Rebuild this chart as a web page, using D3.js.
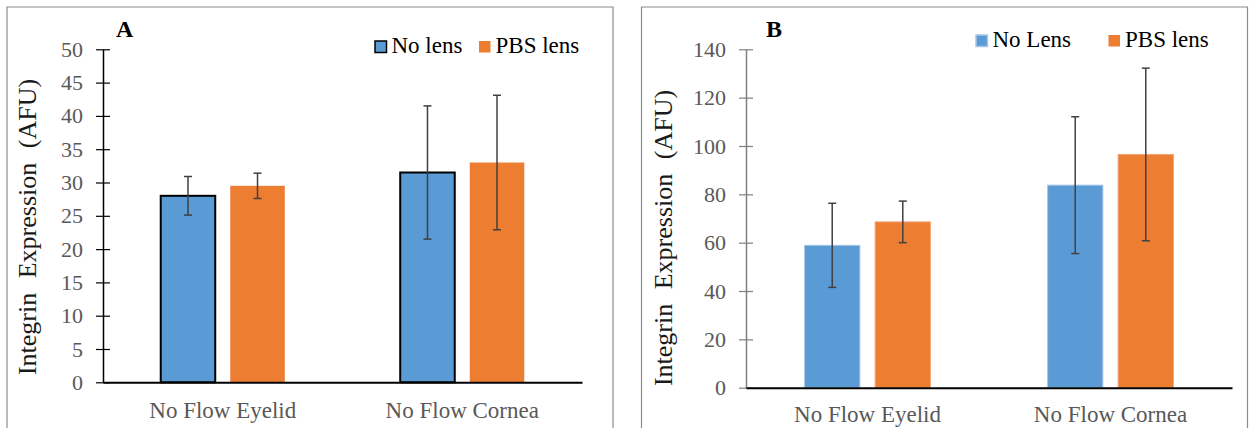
<!DOCTYPE html>
<html>
<head>
<meta charset="utf-8">
<script src="https://cdn.jsdelivr.net/npm/d3@7"></script>
<style>
  html, body { margin: 0; padding: 0; background: #fff; }
  svg { display: block; }
  svg text { font-family: "Liberation Serif", "Times New Roman", serif; }
</style>
</head>
<body>
<svg id="chart" width="1249" height="428"></svg>
<script>
// Groups along the x axis
const categories = ["No Flow Eyelid", "No Flow Cornea"];

// Panel A: integrin expression (AFU), mean and error half-width
const seriesA = ["No lens", "PBS lens"];
const noLensA = [28.0, 31.5];
const noLensErrA = [2.9, 10.0];
const pbsLensA = [29.5, 33.0];
const pbsLensErrA = [1.9, 10.1];
const ticksA = [0, 5, 10, 15, 20, 25, 30, 35, 40, 45, 50];

// Panel B: integrin expression (AFU), mean and error half-width
const seriesB = ["No Lens", "PBS lens"];
const noLensB = [58.9, 83.8];
const noLensErrB = [17.4, 28.3];
const pbsLensB = [68.6, 96.5];
const pbsLensErrB = [8.6, 35.7];
const ticksB = [0, 20, 40, 60, 80, 100, 120, 140];

const BLUE = "#5B9BD5", ORANGE = "#ED7D31";
const SERIF = "'Liberation Serif', 'Times New Roman', serif";
const svg = d3.select("#chart");

function drawPanel(p) {
  const g = svg.append("g");

  // panel frame (open at the bottom)
  g.append("path")
    .attr("d", `M${p.frame[0]},428V${p.frame[1]}H${p.frame[2]}V428`)
    .attr("fill", "none").attr("stroke", "#8c8c8c").attr("stroke-width", 1.2);

  const x0 = d3.scaleBand().domain(categories).range(p.xRange).padding(0);
  const x1 = d3.scaleBand().domain(p.series).range([0, x0.bandwidth()])
    .paddingInner(0.216).paddingOuter(0.83);
  const y = d3.scaleLinear().domain(p.domain).range(p.yRange);

  const rows = categories.map((c, i) => ({
    cat: c,
    vals: p.series.map((s, j) => ({ s, j, v: p.means[j][i], e: p.errs[j][i] }))
  }));

  // bars
  const grp = g.selectAll(".grp").data(rows).join("g")
    .attr("transform", d => `translate(${x0(d.cat)},0)`);
  grp.selectAll("rect").data(d => d.vals).join("rect")
    .attr("x", d => x1(d.s))
    .attr("y", d => y(d.v))
    .attr("width", x1.bandwidth())
    .attr("height", d => y(0) - y(d.v))
    .attr("fill", d => d.j === 0 ? BLUE : ORANGE)
    .attr("stroke", d => d.j === 0 ? p.blueStroke : p.orangeStroke)
    .attr("stroke-width", d => d.j === 0 ? p.blueStrokeW : 1);

  // error bars
  const eb = grp.selectAll(".eb").data(d => d.vals).join("g")
    .attr("stroke", "#404040").attr("stroke-width", 1.5);
  const cx = d => x1(d.s) + x1.bandwidth() / 2;
  eb.append("line").attr("x1", cx).attr("x2", cx)
    .attr("y1", d => y(d.v + d.e)).attr("y2", d => y(d.v - d.e));
  [1, -1].forEach(sg => {
    eb.append("line")
      .attr("x1", d => cx(d) - 4).attr("x2", d => cx(d) + 4)
      .attr("y1", d => y(d.v + sg * d.e)).attr("y2", d => y(d.v + sg * d.e));
  });

  // y axis
  const yAxis = g.append("g").attr("transform", `translate(${p.xRange[0]},0)`)
    .call(d3.axisLeft(y).tickValues(p.ticks).tickSize(0).tickPadding(20).tickFormat(d3.format("d")));
  yAxis.attr("font-family", null).attr("font-size", null);
  yAxis.select(".domain").attr("stroke", p.yAxisColor).attr("stroke-width", 1.5);
  yAxis.selectAll(".tick line").attr("x1", -7).attr("x2", 7)
    .attr("stroke", p.yAxisColor).attr("stroke-width", 1.2);
  yAxis.selectAll(".tick text").attr("fill", "#595959")
    .style("font-size", "22px").style("font-family", SERIF);

  // x axis baseline
  const xAxis = g.append("g").attr("transform", `translate(0,${y(0)})`)
    .call(d3.axisBottom(x0).tickSize(0).tickPadding(0));
  xAxis.attr("font-family", null).attr("font-size", null);
  xAxis.select(".domain").attr("stroke", "#000").attr("stroke-width", 2);
  xAxis.selectAll(".tick text").attr("fill", "#595959").attr("y", p.xLabelDy).attr("dy", 0)
    .style("font-size", "23px").style("font-family", SERIF);

  // y label
  g.append("text")
    .attr("transform", `translate(${p.yLabelPos[0]},${p.yLabelPos[1]}) rotate(-90)`)
    .attr("text-anchor", "middle").attr("fill", "#1a1a1a")
    .style("font-family", SERIF)
    .style("font-size", "26px").style("word-spacing", "8px")
    .text("Integrin Expression (AFU)");

  // panel letter
  g.append("text").attr("x", p.letterPos[0]).attr("y", p.letterPos[1])
    .style("font-family", SERIF).style("font-weight", "bold")
    .style("font-size", "24px").attr("fill", "#000")
    .text(p.letter);

  // legend
  const lg = g.selectAll(".lg").data(p.series).join("g")
    .attr("transform", (d, i) => `translate(${p.legendX[i]},${p.legendY})`);
  lg.append("rect").attr("x", 0).attr("y", -12).attr("width", 11.5).attr("height", 11.5)
    .attr("fill", (d, i) => i === 0 ? BLUE : ORANGE)
    .attr("stroke", (d, i) => i === 0 ? p.blueStroke : "none")
    .attr("stroke-width", (d, i) => i === 0 ? 1.5 : 0);
  lg.append("text").attr("x", 16.5).attr("y", 0).attr("fill", "#000")
    .style("font-family", SERIF).style("font-size", "23px").text(d => d);
}

drawPanel({
  letter: "A", letterPos: [116, 37],
  frame: [7, 7, 613],
  series: seriesA,
  means: [noLensA, pbsLensA], errs: [noLensErrA, pbsLensErrA],
  domain: [0, 50], ticks: ticksA,
  xRange: [103, 582], yRange: [382.3, 49.3],
  yAxisColor: "#000",
  blueStroke: "#000", blueStrokeW: 2, orangeStroke: "none",
  xLabelDy: 35.5,
  yLabelPos: [36, 227],
  legendX: [375, 479], legendY: 53
});

drawPanel({
  letter: "B", letterPos: [766, 37],
  frame: [641.5, 7, 1247.5],
  series: seriesB,
  means: [noLensB, pbsLensB], errs: [noLensErrB, pbsLensErrB],
  domain: [0, 140], ticks: ticksB,
  xRange: [746, 1232], yRange: [387.7, 49.3],
  yAxisColor: "#7f7f7f",
  blueStroke: "#a9c6e6", blueStrokeW: 1, orangeStroke: "#f0a77a",
  xLabelDy: 34,
  yLabelPos: [672, 238],
  legendX: [976, 1108.5], legendY: 47
});
</script>
</body>
</html>
